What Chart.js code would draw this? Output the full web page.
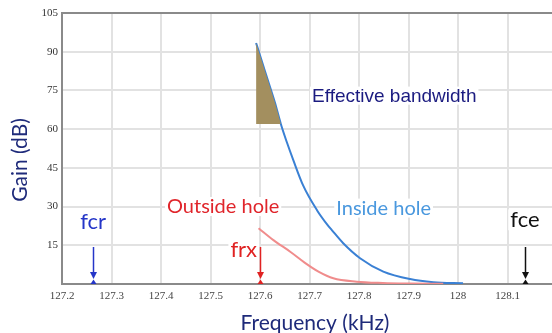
<!DOCTYPE html>
<html>
<head>
<meta charset="utf-8">
<script src="https://cdn.jsdelivr.net/npm/chart.js"></script>
<style>
  html, body { margin: 0; padding: 0; overflow: hidden; background: #fff; }
  #wrap { width: 568px; height: 333px; }
</style>
</head>
<body>
<div id="wrap"><canvas id="grafico"></canvas></div>
<script>
// curva "inside hole" (azul)
const insideFreq = [127.592, 127.600, 127.615, 127.630, 127.642, 127.654, 127.667, 127.687, 127.715, 127.735, 127.745, 127.768, 127.802, 127.849, 127.903, 127.950, 128.010];
const insideGain = [93.4, 88.5, 79.4, 70.3, 62.0, 55.0, 48.1, 38.2, 28.6, 23.2, 20.9, 15.8, 10.0, 4.8, 1.9, 0.7, 0.3];

// curva "outside hole" (roja)
const outsideFreq = [127.597, 127.627, 127.661, 127.690, 127.718, 127.748, 127.795, 127.848, 127.900, 127.970];
const outsideGain = [21.6, 17.0, 12.5, 8.3, 4.8, 2.2, 0.9, 0.4, 0.2, 0.1];

// zona sombreada: tramo de la curva azul por encima de este nivel
const bandFloor = 62;
const bandEndFreq = 127.642;

// marcadores de frecuencia
const markerFreq = [127.263, 127.6, 128.135];
const markerNames = ['fcr', 'frx', 'fce'];

const yTicks = [0, 15, 30, 45, 60, 75, 90, 105];

function pts(xs, ys) {
    return xs.map((x, i) => ({ x: x, y: ys[i] }));
}

const bandPts = pts(insideFreq, insideGain).filter(p => p.x <= bandEndFreq);

// textos (posición en coordenadas de datos, línea base)
const etiquetas = [
    { text: 'Effective bandwidth', x: 127.705, y: 70.6, align: 'left', color: '#1b1b80', font: '19px "Liberation Sans"' },
    { text: 'Inside hole', x: 127.754, y: 26.9, align: 'left', color: '#4a98de', font: '20px Lato' },
    { text: 'Outside hole', x: 127.412, y: 27.5, align: 'left', color: '#e0252b', font: '20px Lato' },
    { text: markerNames[0], x: markerFreq[0], y: 21.3, align: 'center', color: '#2536c8', font: '22px Lato' },
    { text: markerNames[1], x: 127.594, y: 10.5, align: 'right', color: '#e02222', font: '22px Lato' },
    { text: markerNames[2], x: markerFreq[2], y: 22.1, align: 'center', color: '#111111', font: '22px Lato' }
];
const markerColors = ['#2536c8', '#e02222', '#111111'];

const anotaciones = {
    id: 'anotaciones',
    afterDatasetsDraw(chart) {
        const ctx = chart.ctx;
        const xs = chart.scales.x, ys = chart.scales.y;
        const yb = chart.chartArea.bottom;
        ctx.save();
        // flechas
        markerFreq.forEach((f, i) => {
            const px = Math.round(xs.getPixelForValue(f)) + 0.5;
            ctx.strokeStyle = markerColors[i];
            ctx.fillStyle = markerColors[i];
            ctx.lineWidth = 1.5;
            ctx.beginPath();
            ctx.moveTo(px, yb - 37);
            ctx.lineTo(px, yb - 10);
            ctx.stroke();
            ctx.beginPath();
            ctx.moveTo(px - 3.5, yb - 12);
            ctx.lineTo(px + 3.5, yb - 12);
            ctx.lineTo(px, yb - 5);
            ctx.closePath();
            ctx.fill();
            ctx.beginPath();
            ctx.moveTo(px - 3, yb);
            ctx.lineTo(px + 3, yb);
            ctx.lineTo(px, yb - 4.5);
            ctx.closePath();
            ctx.fill();
        });
        // textos con fondo blanco
        etiquetas.forEach(e => {
            ctx.font = e.font;
            const w = ctx.measureText(e.text).width;
            const px = xs.getPixelForValue(e.x);
            const py = ys.getPixelForValue(e.y);
            let left = px;
            if (e.align === 'center') left = px - w / 2;
            if (e.align === 'right') left = px - w;
            const size = parseFloat(e.font);
            ctx.fillStyle = '#fff';
            ctx.fillRect(left - 2, py - size * 0.8, w + 4, size * 0.95);
            ctx.fillStyle = e.color;
            ctx.textAlign = 'left';
            ctx.textBaseline = 'alphabetic';
            ctx.fillText(e.text, left, py);
        });
        ctx.restore();
    },
    afterDraw(chart) {
        const ctx = chart.ctx;
        ctx.save();
        ctx.fillStyle = '#1e2a7a';
        ctx.font = '21px Lato';
        ctx.textAlign = 'center';
        ctx.textBaseline = 'alphabetic';
        ctx.fillText('Frequency (kHz)', 315, 330);
        ctx.translate(27, 160);
        ctx.rotate(-Math.PI / 2);
        ctx.fillText('Gain (dB)', 0, 0);
        ctx.restore();
    }
};

const ctx = document.getElementById('grafico');

new Chart(ctx, {
    type: 'line',
    data: {
        datasets: [
            {
                label: 'Effective bandwidth',
                data: bandPts,
                borderWidth: 0,
                pointRadius: 0,
                backgroundColor: 'rgb(163,143,95)',
                fill: { value: bandFloor },
                cubicInterpolationMode: 'monotone'
            },
            {
                label: 'Outside hole',
                data: pts(outsideFreq, outsideGain),
                borderColor: '#f08c8c',
                borderWidth: 2,
                pointRadius: 0,
                fill: false,
                cubicInterpolationMode: 'monotone'
            },
            {
                label: 'Inside hole',
                data: pts(insideFreq, insideGain),
                borderColor: '#3a80d4',
                borderWidth: 2,
                pointRadius: 0,
                fill: false,
                cubicInterpolationMode: 'monotone'
            }
        ]
    },
    options: {
        responsive: true,
        maintainAspectRatio: false,
        animation: false,
        layout: { padding: { top: 13, left: 0, right: 0, bottom: 0 } },
        plugins: {
            legend: { display: false },
            tooltip: { enabled: false }
        },
        scales: {
            x: {
                type: 'linear',
                min: 127.2,
                max: 128.222,
                afterFit: s => { s.height = 49; },
                grid: { color: '#e2e2e2', lineWidth: 2, drawTicks: false },
                border: { color: '#8a8a8a', width: 2 },
                ticks: {
                    stepSize: 0.1,
                    includeBounds: false,
                    autoSkip: false,
                    maxRotation: 0,
                    padding: 6,
                    color: '#444',
                    font: { family: '"Liberation Serif"', size: 11 },
                    callback: v => v > 128.15 ? '' : String(+v.toFixed(1))
                }
            },
            y: {
                min: 0,
                max: 105,
                afterFit: s => { s.width = 62; },
                afterBuildTicks: s => { s.ticks = yTicks.map(v => ({ value: v })); },
                grid: {
                    color: c => c.tick && c.tick.value === 105 ? '#8a8a8a' : '#e2e2e2',
                    lineWidth: 2,
                    drawTicks: false
                },
                border: { color: '#8a8a8a', width: 2 },
                ticks: {
                    padding: 4,
                    color: '#333',
                    font: { family: '"Liberation Serif"', size: 11 },
                    callback: v => v === 0 ? '' : String(v)
                }
            }
        }
    },
    plugins: [anotaciones]
});
</script>
</body>
</html>
